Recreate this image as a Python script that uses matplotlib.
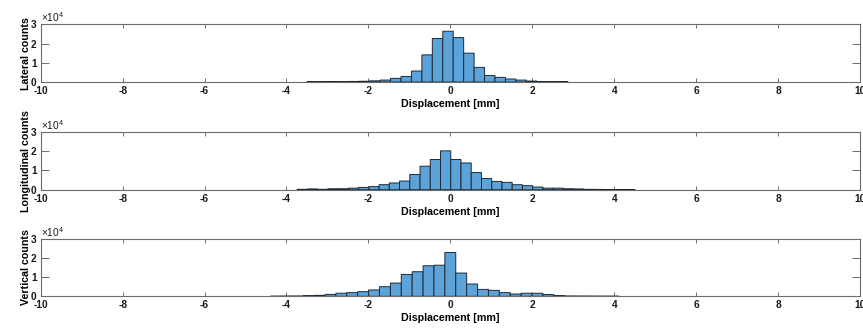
#!/usr/bin/env python3
"""
Displacement histogram plot (lateral / longitudinal / vertical).

Redraws three stacked MATLAB-style histograms of displacement counts
and saves them as out.png.
"""

import numpy as np
import matplotlib
matplotlib.use('Agg')
import matplotlib.pyplot as plt

# Bin layout: first left edge [mm] and bin width [mm]
lateral_start = -3.50
lateral_width = 0.255
longitudinal_start = -3.74
longitudinal_width = 0.25
vertical_start = -4.39
vertical_width = 0.266

# Counts per bin (left to right)
lateral_counts = [50, 50, 80, 100, 300, 400, 600, 1000, 1900, 2900,
                  5700, 14100, 22600, 26400, 23100, 15000, 7600, 3400,
                  2400, 1550, 1000, 500, 100, 80, 50]
longitudinal_counts = [200, 400, 200, 500, 500, 800, 1200, 1600, 2600,
                       3500, 4500, 7900, 12200, 15700, 20200, 15700,
                       13900, 8900, 5800, 4300, 3800, 2600, 2100, 1400,
                       800, 800, 500, 400, 200, 150, 100, 80, 50]
vertical_counts = [50, 80, 100, 300, 500, 1000, 1600, 1900, 2400, 3300,
                   5000, 6900, 11400, 12800, 15900, 16200, 22800, 12100,
                   6400, 3600, 3100, 1900, 1200, 1600, 1600, 900, 300,
                   100, 80, 60, 40, 30]

panel_labels = ['Lateral counts', 'Longitudinal counts', 'Vertical counts']
x_label = 'Displacement [mm]'
x_ticks = [-10, -8, -6, -4, -2, 0, 2, 4, 6, 8, 10]
y_ticks = [0, 10000, 20000, 30000]
y_tick_labels = ['0', '1', '2', '3']

FONT = 'Liberation Sans'
AXIS_COLOR = '#6b6b6b'
BAR_FACE = '#5ba3d9'


def draw_histogram(ax, start, width, counts, ylabel):
    """Draw one histogram panel in MATLAB look."""
    counts = np.asarray(counts, dtype=float)
    edges = start + width * np.arange(len(counts))
    # no snapping and above the spine, so near-empty tail bins still
    # show up as a dark line along the bottom
    bars = ax.bar(edges, counts, width=width, align='edge', zorder=3,
                  facecolor=BAR_FACE, edgecolor='#1f2a33', linewidth=0.7)
    for patch in bars:
        patch.set_snap(False)

    ax.set_xlim(-10, 10)
    ax.set_ylim(0, 30000)
    ax.set_xticks(x_ticks)
    ax.set_xticklabels([str(t) for t in x_ticks])
    ax.set_yticks(y_ticks)
    ax.set_yticklabels(y_tick_labels)

    # box on, ticks pointing inward on all four sides
    for spine in ax.spines.values():
        spine.set_color(AXIS_COLOR)
        spine.set_linewidth(0.8)
    ax.tick_params(axis='x', direction='in', length=3, width=0.7,
                   color=AXIS_COLOR, top=True, pad=3,
                   labelsize=7.3, labelcolor='#1a1a1a')
    ax.tick_params(axis='y', direction='in', length=6, width=0.7,
                   color=AXIS_COLOR, right=True, pad=3,
                   labelsize=7.3, labelcolor='#1a1a1a')
    for lab in ax.get_xticklabels() + ax.get_yticklabels():
        lab.set_fontweight('bold')
        lab.set_fontfamily(FONT)

    ax.set_xlabel(x_label, fontsize=7.7, fontweight='bold',
                  fontfamily=FONT, labelpad=2)
    ax.set_ylabel(ylabel, fontsize=7.7, fontweight='bold', fontfamily=FONT)
    ax.yaxis.set_label_coords(-0.012, 0.5)

    # exponent label like MATLAB's "x10^4"
    ax.text(0.0, 1.0, r'$\mathregular{\times10^{4}}$', transform=ax.transAxes,
            ha='left', va='bottom', fontsize=7.3, fontfamily=FONT,
            color='#1a1a1a')


def main():
    plt.rcParams['mathtext.fontset'] = 'custom'
    plt.rcParams['mathtext.rm'] = FONT

    fig = plt.figure(figsize=(8.63, 3.32), dpi=100)
    fig.patch.set_facecolor('white')

    # axes boxes measured in pixels: (left, top, right, bottom)
    boxes = [(40.7, 24.3, 860.0, 82.0),
             (40.7, 132.0, 860.0, 189.7),
             (40.7, 238.7, 860.0, 296.3)]
    W, H = 863.0, 332.0

    data = [(lateral_start, lateral_width, lateral_counts),
            (longitudinal_start, longitudinal_width, longitudinal_counts),
            (vertical_start, vertical_width, vertical_counts)]

    for (l, t, r, b), (start, width, counts), label in zip(boxes, data, panel_labels):
        ax = fig.add_axes([l / W, 1 - b / H, (r - l) / W, (b - t) / H])
        draw_histogram(ax, start, width, counts, label)

    fig.savefig('out.png', dpi=100, facecolor='white')
    plt.close(fig)


if __name__ == "__main__":
    main()
